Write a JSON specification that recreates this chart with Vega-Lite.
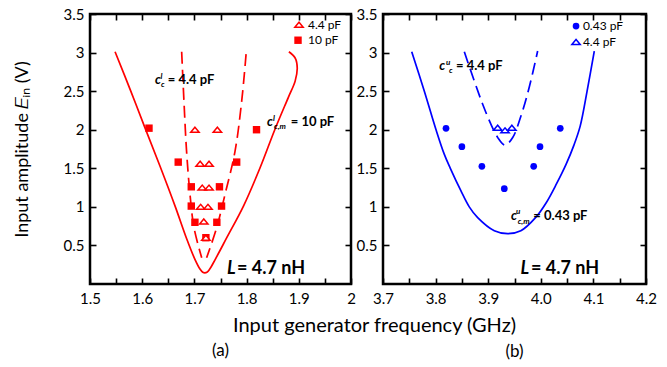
{
  "$schema": "https://vega.github.io/schema/vega-lite/v6.json",
  "padding": {"left": 11, "top": 5, "right": 5, "bottom": 5},
  "background": "white",
  "bounds": "flush",
  "spacing": 32,
  "config": {
    "font": "Lato",
    "view": {"stroke": "black", "strokeWidth": 2.5},
    "axis": {"grid": false, "domain": false, "ticks": true, "tickOpacity": 1, "tickColor": "black", "tickWidth": 1.6, "zindex": 1, "labelFont": "Lato", "labelFontSize": 15, "labelColor": "black", "titleFont": "Lato", "titleFontSize": 18, "titleFontWeight": "normal", "titleColor": "black", "labelFlush": false, "labelOverlap": false}
  },
  "datasets": {
    "curves": [
      {"panel": "a", "curve": "solid", "i": 0, "f": 1.548, "v": 3.01},
      {"panel": "a", "curve": "solid", "i": 1, "f": 1.577, "v": 2.52},
      {"panel": "a", "curve": "solid", "i": 2, "f": 1.605, "v": 2.03},
      {"panel": "a", "curve": "solid", "i": 3, "f": 1.634, "v": 1.53},
      {"panel": "a", "curve": "solid", "i": 4, "f": 1.663, "v": 1.01},
      {"panel": "a", "curve": "solid", "i": 5, "f": 1.685, "v": 0.59},
      {"panel": "a", "curve": "solid", "i": 6, "f": 1.701, "v": 0.32},
      {"panel": "a", "curve": "solid", "i": 7, "f": 1.711, "v": 0.19},
      {"panel": "a", "curve": "solid", "i": 8, "f": 1.716, "v": 0.152},
      {"panel": "a", "curve": "solid", "i": 9, "f": 1.72, "v": 0.145},
      {"panel": "a", "curve": "solid", "i": 10, "f": 1.724, "v": 0.152},
      {"panel": "a", "curve": "solid", "i": 11, "f": 1.729, "v": 0.19},
      {"panel": "a", "curve": "solid", "i": 12, "f": 1.74, "v": 0.32},
      {"panel": "a", "curve": "solid", "i": 13, "f": 1.762, "v": 0.6},
      {"panel": "a", "curve": "solid", "i": 14, "f": 1.794, "v": 1.01},
      {"panel": "a", "curve": "solid", "i": 15, "f": 1.826, "v": 1.51},
      {"panel": "a", "curve": "solid", "i": 16, "f": 1.854, "v": 2.0},
      {"panel": "a", "curve": "solid", "i": 17, "f": 1.88, "v": 2.42},
      {"panel": "a", "curve": "solid", "i": 18, "f": 1.893, "v": 2.63},
      {"panel": "a", "curve": "solid", "i": 19, "f": 1.897, "v": 2.8},
      {"panel": "a", "curve": "solid", "i": 20, "f": 1.893, "v": 2.93},
      {"panel": "a", "curve": "solid", "i": 21, "f": 1.881, "v": 3.01},
      {"panel": "a", "curve": "dashL", "i": 0, "f": 1.6756, "v": 3.01},
      {"panel": "a", "curve": "dashL", "i": 1, "f": 1.68, "v": 2.37},
      {"panel": "a", "curve": "dashL", "i": 2, "f": 1.685, "v": 1.72},
      {"panel": "a", "curve": "dashL", "i": 3, "f": 1.6916, "v": 1.16},
      {"panel": "a", "curve": "dashL", "i": 4, "f": 1.6992, "v": 0.73},
      {"panel": "a", "curve": "dashL", "i": 5, "f": 1.714, "v": 0.34},
      {"panel": "a", "curve": "dashR", "i": 0, "f": 1.799, "v": 2.98},
      {"panel": "a", "curve": "dashR", "i": 1, "f": 1.7906, "v": 2.37},
      {"panel": "a", "curve": "dashR", "i": 2, "f": 1.7778, "v": 1.72},
      {"panel": "a", "curve": "dashR", "i": 3, "f": 1.7586, "v": 1.16},
      {"panel": "a", "curve": "dashR", "i": 4, "f": 1.7427, "v": 0.73},
      {"panel": "a", "curve": "dashR", "i": 5, "f": 1.7234, "v": 0.34},
      {"panel": "b", "curve": "solid", "i": 0, "f": 3.7546, "v": 3.01},
      {"panel": "b", "curve": "solid", "i": 1, "f": 3.7786, "v": 2.5},
      {"panel": "b", "curve": "solid", "i": 2, "f": 3.8008, "v": 2.0},
      {"panel": "b", "curve": "solid", "i": 3, "f": 3.8166, "v": 1.68},
      {"panel": "b", "curve": "solid", "i": 4, "f": 3.828, "v": 1.5},
      {"panel": "b", "curve": "solid", "i": 5, "f": 3.848, "v": 1.21},
      {"panel": "b", "curve": "solid", "i": 6, "f": 3.864, "v": 1.0},
      {"panel": "b", "curve": "solid", "i": 7, "f": 3.88, "v": 0.86},
      {"panel": "b", "curve": "solid", "i": 8, "f": 3.9116, "v": 0.69},
      {"panel": "b", "curve": "solid", "i": 9, "f": 3.937, "v": 0.652},
      {"panel": "b", "curve": "solid", "i": 10, "f": 3.962, "v": 0.69},
      {"panel": "b", "curve": "solid", "i": 11, "f": 3.99, "v": 0.86},
      {"panel": "b", "curve": "solid", "i": 12, "f": 4.01, "v": 1.05},
      {"panel": "b", "curve": "solid", "i": 13, "f": 4.03, "v": 1.3},
      {"panel": "b", "curve": "solid", "i": 14, "f": 4.048, "v": 1.55},
      {"panel": "b", "curve": "solid", "i": 15, "f": 4.063, "v": 1.8},
      {"panel": "b", "curve": "solid", "i": 16, "f": 4.075, "v": 2.05},
      {"panel": "b", "curve": "solid", "i": 17, "f": 4.088, "v": 2.5},
      {"panel": "b", "curve": "solid", "i": 18, "f": 4.1017, "v": 3.02},
      {"panel": "b", "curve": "dash", "i": 0, "f": 3.8546, "v": 3.01},
      {"panel": "b", "curve": "dash", "i": 1, "f": 3.8736, "v": 2.63},
      {"panel": "b", "curve": "dash", "i": 2, "f": 3.8895, "v": 2.33},
      {"panel": "b", "curve": "dash", "i": 3, "f": 3.9053, "v": 2.07},
      {"panel": "b", "curve": "dash", "i": 4, "f": 3.918, "v": 1.9},
      {"panel": "b", "curve": "dash", "i": 5, "f": 3.932, "v": 1.8},
      {"panel": "b", "curve": "dash", "i": 6, "f": 3.9466, "v": 1.9},
      {"panel": "b", "curve": "dash", "i": 7, "f": 3.9624, "v": 2.18},
      {"panel": "b", "curve": "dash", "i": 8, "f": 3.978, "v": 2.55},
      {"panel": "b", "curve": "dash", "i": 9, "f": 3.994, "v": 3.02}
    ],
    "pts": [
      {"panel": "a", "shape": "sq", "f": 1.613, "v": 2.02},
      {"panel": "a", "shape": "sq", "f": 1.819, "v": 2.0},
      {"panel": "a", "shape": "sq", "f": 1.669, "v": 1.58},
      {"panel": "a", "shape": "sq", "f": 1.781, "v": 1.58},
      {"panel": "a", "shape": "sq", "f": 1.694, "v": 1.26},
      {"panel": "a", "shape": "sq", "f": 1.748, "v": 1.26},
      {"panel": "a", "shape": "sq", "f": 1.694, "v": 1.01},
      {"panel": "a", "shape": "sq", "f": 1.752, "v": 1.01},
      {"panel": "a", "shape": "sq", "f": 1.701, "v": 0.8},
      {"panel": "a", "shape": "sq", "f": 1.743, "v": 0.8},
      {"panel": "a", "shape": "sq", "f": 1.722, "v": 0.6},
      {"panel": "a", "shape": "sq", "f": 1.8985, "v": 3.16},
      {"panel": "a", "shape": "tri", "f": 1.701, "v": 2.0},
      {"panel": "a", "shape": "tri", "f": 1.744, "v": 2.0},
      {"panel": "a", "shape": "tri", "f": 1.711, "v": 1.56},
      {"panel": "a", "shape": "tri", "f": 1.728, "v": 1.56},
      {"panel": "a", "shape": "tri", "f": 1.715, "v": 1.25},
      {"panel": "a", "shape": "tri", "f": 1.728, "v": 1.25},
      {"panel": "a", "shape": "tri", "f": 1.712, "v": 1.0},
      {"panel": "a", "shape": "tri", "f": 1.726, "v": 1.0},
      {"panel": "a", "shape": "tri", "f": 1.718, "v": 0.81},
      {"panel": "a", "shape": "tri", "f": 1.722, "v": 0.6},
      {"panel": "a", "shape": "tri", "f": 1.9004, "v": 3.36},
      {"panel": "b", "shape": "circ", "f": 3.8198, "v": 2.018},
      {"panel": "b", "shape": "circ", "f": 4.037, "v": 2.018},
      {"panel": "b", "shape": "circ", "f": 3.85, "v": 1.78},
      {"panel": "b", "shape": "circ", "f": 3.9985, "v": 1.78},
      {"panel": "b", "shape": "circ", "f": 3.888, "v": 1.526},
      {"panel": "b", "shape": "circ", "f": 3.9865, "v": 1.526},
      {"panel": "b", "shape": "circ", "f": 3.9306, "v": 1.235},
      {"panel": "b", "shape": "circ", "f": 4.067, "v": 3.344},
      {"panel": "b", "shape": "tri", "f": 3.918, "v": 2.026},
      {"panel": "b", "shape": "tri", "f": 3.932, "v": 1.992},
      {"panel": "b", "shape": "tri", "f": 3.945, "v": 2.026},
      {"panel": "b", "shape": "tri", "f": 4.067, "v": 3.137}
    ],
    "txt": [
      {"panel": "a", "kind": "sym", "f": 1.6245, "v": 2.593, "t": "c"},
      {"panel": "a", "kind": "sym", "f": 1.839, "v": 2.048, "t": "c"},
      {"panel": "a", "kind": "sup", "f": 1.635, "v": 2.658, "t": "l"},
      {"panel": "a", "kind": "sup", "f": 1.8506, "v": 2.113, "t": "l"},
      {"panel": "a", "kind": "sub", "f": 1.636, "v": 2.554, "t": "c"},
      {"panel": "a", "kind": "sub", "f": 1.8525, "v": 2.009, "t": "c,m"},
      {"panel": "a", "kind": "val", "f": 1.649, "v": 2.593, "t": "= 4.4 pF"},
      {"panel": "a", "kind": "val", "f": 1.8845, "v": 2.048, "t": "= 10 pF"},
      {"panel": "a", "kind": "Lsym", "f": 1.7625, "v": 0.13, "t": "L"},
      {"panel": "a", "kind": "Lval", "f": 1.7816, "v": 0.13, "t": "= 4.7 nH"},
      {"panel": "a", "kind": "leg", "f": 1.9176, "v": 3.36, "t": "4.4 pF"},
      {"panel": "a", "kind": "leg", "f": 1.9176, "v": 3.16, "t": "10 pF"},
      {"panel": "b", "kind": "sym", "f": 3.807, "v": 2.774, "t": "c"},
      {"panel": "b", "kind": "sym", "f": 3.9433, "v": 0.826, "t": "c"},
      {"panel": "b", "kind": "sup", "f": 3.8198, "v": 2.839, "t": "u"},
      {"panel": "b", "kind": "sup", "f": 3.9529, "v": 0.907, "t": "u"},
      {"panel": "b", "kind": "sub", "f": 3.8255, "v": 2.735, "t": "c"},
      {"panel": "b", "kind": "sub", "f": 3.956, "v": 0.78, "t": "c,m"},
      {"panel": "b", "kind": "val", "f": 3.8388, "v": 2.774, "t": "= 4.4 pF"},
      {"panel": "b", "kind": "val", "f": 3.9858, "v": 0.826, "t": "= 0.43 pF"},
      {"panel": "b", "kind": "Lsym", "f": 3.9614, "v": 0.13, "t": "L"},
      {"panel": "b", "kind": "Lval", "f": 3.9814, "v": 0.13, "t": "= 4.7 nH"},
      {"panel": "b", "kind": "leg", "f": 4.08, "v": 3.344, "t": "0.43 pF"},
      {"panel": "b", "kind": "leg", "f": 4.08, "v": 3.137, "t": "4.4 pF"}
    ]
  },
  "hconcat": [
    {
      "width": 261,
      "height": 270,
      "title": {"text": "(a)", "orient": "bottom", "anchor": "middle", "font": "Lato", "fontSize": 17, "fontWeight": "normal", "color": "black", "offset": 8},
      "resolve": {"axis": {"x": "independent", "y": "independent"}},
      "encoding": {
        "x": {"field": "f", "type": "quantitative", "scale": {"domain": [1.5, 2], "nice": false, "zero": false}, "axis": null},
        "y": {"field": "v", "type": "quantitative", "scale": {"domain": [0, 3.5], "nice": false, "zero": false}, "axis": null}
      },
      "layer": [
        {
          "data": {"name": "curves"},
          "transform": [{"filter": "datum.panel == 'a' && datum.curve == 'solid'"}],
          "mark": {"type": "line", "color": "#ff0000", "strokeWidth": 1.7, "interpolate": "catmull-rom"},
          "encoding": {
            "x": {"field": "f", "type": "quantitative", "scale": {"domain": [1.5, 2], "nice": false, "zero": false},
              "axis": {"orient": "bottom", "offset": -6, "ticks": true, "values": [1.5, 1.55, 1.6, 1.65, 1.7, 1.75, 1.8, 1.85, 1.9, 1.95, 2], "labelExpr": "abs(datum.value*10 - round(datum.value*10)) < 0.01 ? (datum.value == 2 ? '2' : format(datum.value, '.1f')) : ''", "tickSize": 6, "labelPadding": 7, "title": "Input generator frequency (GHz)", "titleFontSize": 20, "titlePadding": 9, "titleX": 284}},
            "y": {"field": "v", "type": "quantitative", "scale": {"domain": [0, 3.5], "nice": false, "zero": false},
              "axis": {"orient": "left", "offset": -6, "ticks": true, "values": [0.5, 1, 1.5, 2, 2.5, 3, 3.5], "labelExpr": "toString(datum.value)", "tickSize": 6, "labelPadding": 6, "title": "Input amplitude 𝐸ᵢₙ (V)", "titlePadding": 32}},
            "order": {"field": "i", "type": "quantitative"}
          }
        },
        {
          "data": {"name": "curves"},
          "transform": [{"filter": "datum.panel == 'a' && datum.curve != 'solid'"}],
          "mark": {"type": "line", "color": "#ff0000", "strokeWidth": 1.7, "strokeDash": [12, 6], "interpolate": "catmull-rom"},
          "encoding": {
            "x": {"field": "f", "type": "quantitative", "scale": {"domain": [1.5, 2], "nice": false, "zero": false},
              "axis": {"orient": "top", "offset": -6, "ticks": true, "values": [1.5, 1.55, 1.6, 1.65, 1.7, 1.75, 1.8, 1.85, 1.9, 1.95, 2], "labels": false, "tickSize": 6, "title": null}},
            "y": {"field": "v", "type": "quantitative", "scale": {"domain": [0, 3.5], "nice": false, "zero": false},
              "axis": {"orient": "right", "offset": -6, "ticks": true, "values": [0.5, 1, 1.5, 2, 2.5, 3, 3.5], "labels": false, "tickSize": 6, "title": null}},
            "detail": {"field": "curve", "type": "nominal"},
            "order": {"field": "i", "type": "quantitative"}
          }
        },
        {
          "data": {"name": "pts"},
          "transform": [{"filter": "datum.panel == 'a' && datum.shape == 'sq'"}],
          "mark": {"type": "point", "shape": "square", "filled": true, "color": "#ff0000", "size": 55, "opacity": 1}
        },
        {
          "data": {"name": "pts"},
          "transform": [{"filter": "datum.panel == 'a' && datum.shape == 'tri'"}],
          "mark": {"type": "point", "shape": "M-1,0.6L1,0.6L0,-0.6Z", "filled": true, "fill": "white", "stroke": "#ff0000", "strokeWidth": 1.5, "size": 70, "opacity": 1}
        },
        {
          "data": {"name": "txt"},
          "transform": [{"filter": "datum.panel == 'a' && datum.kind == 'sym'"}],
          "mark": {"type": "text", "align": "left", "baseline": "alphabetic", "font": "Lato", "fontSize": 13, "fontWeight": "bold", "fontStyle": "italic", "color": "black"},
          "encoding": {"text": {"field": "t"}}
        },
        {
          "data": {"name": "txt"},
          "transform": [{"filter": "datum.panel == 'a' && (datum.kind == 'sup' || datum.kind == 'sub')"}],
          "mark": {"type": "text", "align": "left", "baseline": "alphabetic", "font": "Lato", "fontSize": 8, "fontWeight": "bold", "fontStyle": "italic", "color": "black"},
          "encoding": {"text": {"field": "t"}}
        },
        {
          "data": {"name": "txt"},
          "transform": [{"filter": "datum.panel == 'a' && datum.kind == 'val'"}],
          "mark": {"type": "text", "align": "left", "baseline": "alphabetic", "font": "Lato", "fontSize": 13, "fontWeight": "bold", "color": "black"},
          "encoding": {"text": {"field": "t"}}
        },
        {
          "data": {"name": "txt"},
          "transform": [{"filter": "datum.panel == 'a' && datum.kind == 'Lsym'"}],
          "mark": {"type": "text", "align": "left", "baseline": "alphabetic", "font": "Lato", "fontSize": 18, "fontWeight": "bold", "fontStyle": "italic", "color": "black"},
          "encoding": {"text": {"field": "t"}}
        },
        {
          "data": {"name": "txt"},
          "transform": [{"filter": "datum.panel == 'a' && datum.kind == 'Lval'"}],
          "mark": {"type": "text", "align": "left", "baseline": "alphabetic", "font": "Lato", "fontSize": 18, "fontWeight": "bold", "color": "black"},
          "encoding": {"text": {"field": "t"}}
        },
        {
          "data": {"name": "txt"},
          "transform": [{"filter": "datum.panel == 'a' && datum.kind == 'leg'"}],
          "mark": {"type": "text", "align": "left", "baseline": "middle", "font": "Lato", "fontSize": 12, "color": "black"},
          "encoding": {"text": {"field": "t"}}
        }
      ]
    },
    {
      "width": 263,
      "height": 270,
      "title": {"text": "(b)", "orient": "bottom", "anchor": "middle", "font": "Lato", "fontSize": 17, "fontWeight": "normal", "color": "black", "offset": 38},
      "resolve": {"axis": {"x": "independent", "y": "independent"}},
      "encoding": {
        "x": {"field": "f", "type": "quantitative", "scale": {"domain": [3.7, 4.2], "nice": false, "zero": false}, "axis": null},
        "y": {"field": "v", "type": "quantitative", "scale": {"domain": [0, 3.5], "nice": false, "zero": false}, "axis": null}
      },
      "layer": [
        {
          "data": {"name": "curves"},
          "transform": [{"filter": "datum.panel == 'b' && datum.curve == 'solid'"}],
          "mark": {"type": "line", "color": "#0000ff", "strokeWidth": 1.7, "interpolate": "catmull-rom"},
          "encoding": {
            "x": {"field": "f", "type": "quantitative", "scale": {"domain": [3.7, 4.2], "nice": false, "zero": false},
              "axis": {"orient": "bottom", "offset": -6, "ticks": true, "values": [3.7, 3.75, 3.8, 3.85, 3.9, 3.95, 4.0, 4.05, 4.1, 4.15, 4.2], "labelExpr": "abs(datum.value*10 - round(datum.value*10)) < 0.01 ? format(datum.value, '.1f') : ''", "tickSize": 6, "labelPadding": 7, "title": null}},
            "y": {"field": "v", "type": "quantitative", "scale": {"domain": [0, 3.5], "nice": false, "zero": false},
              "axis": {"orient": "left", "offset": -6, "ticks": true, "values": [0.5, 1, 1.5, 2, 2.5, 3, 3.5], "labelExpr": "toString(datum.value)", "tickSize": 6, "labelPadding": 6, "title": null}},
            "order": {"field": "i", "type": "quantitative"}
          }
        },
        {
          "data": {"name": "curves"},
          "transform": [{"filter": "datum.panel == 'b' && datum.curve != 'solid'"}],
          "mark": {"type": "line", "color": "#0000ff", "strokeWidth": 1.7, "strokeDash": [12, 6], "interpolate": "catmull-rom"},
          "encoding": {
            "x": {"field": "f", "type": "quantitative", "scale": {"domain": [3.7, 4.2], "nice": false, "zero": false},
              "axis": {"orient": "top", "offset": -6, "ticks": true, "values": [3.7, 3.75, 3.8, 3.85, 3.9, 3.95, 4.0, 4.05, 4.1, 4.15, 4.2], "labels": false, "tickSize": 6, "title": null}},
            "y": {"field": "v", "type": "quantitative", "scale": {"domain": [0, 3.5], "nice": false, "zero": false},
              "axis": {"orient": "right", "offset": -6, "ticks": true, "values": [0.5, 1, 1.5, 2, 2.5, 3, 3.5], "labels": false, "tickSize": 6, "title": null}},
            "detail": {"field": "curve", "type": "nominal"},
            "order": {"field": "i", "type": "quantitative"}
          }
        },
        {
          "data": {"name": "pts"},
          "transform": [{"filter": "datum.panel == 'b' && datum.shape == 'circ'"}],
          "mark": {"type": "point", "shape": "circle", "filled": true, "color": "#0000ff", "size": 45, "opacity": 1}
        },
        {
          "data": {"name": "pts"},
          "transform": [{"filter": "datum.panel == 'b' && datum.shape == 'tri'"}],
          "mark": {"type": "point", "shape": "M-1,0.6L1,0.6L0,-0.6Z", "filled": true, "fill": "white", "stroke": "#0000ff", "strokeWidth": 1.5, "size": 70, "opacity": 1}
        },
        {
          "data": {"name": "txt"},
          "transform": [{"filter": "datum.panel == 'b' && datum.kind == 'sym'"}],
          "mark": {"type": "text", "align": "left", "baseline": "alphabetic", "font": "Lato", "fontSize": 13, "fontWeight": "bold", "fontStyle": "italic", "color": "black"},
          "encoding": {"text": {"field": "t"}}
        },
        {
          "data": {"name": "txt"},
          "transform": [{"filter": "datum.panel == 'b' && (datum.kind == 'sup' || datum.kind == 'sub')"}],
          "mark": {"type": "text", "align": "left", "baseline": "alphabetic", "font": "Lato", "fontSize": 8, "fontWeight": "bold", "fontStyle": "italic", "color": "black"},
          "encoding": {"text": {"field": "t"}}
        },
        {
          "data": {"name": "txt"},
          "transform": [{"filter": "datum.panel == 'b' && datum.kind == 'val'"}],
          "mark": {"type": "text", "align": "left", "baseline": "alphabetic", "font": "Lato", "fontSize": 13, "fontWeight": "bold", "color": "black"},
          "encoding": {"text": {"field": "t"}}
        },
        {
          "data": {"name": "txt"},
          "transform": [{"filter": "datum.panel == 'b' && datum.kind == 'Lsym'"}],
          "mark": {"type": "text", "align": "left", "baseline": "alphabetic", "font": "Lato", "fontSize": 18, "fontWeight": "bold", "fontStyle": "italic", "color": "black"},
          "encoding": {"text": {"field": "t"}}
        },
        {
          "data": {"name": "txt"},
          "transform": [{"filter": "datum.panel == 'b' && datum.kind == 'Lval'"}],
          "mark": {"type": "text", "align": "left", "baseline": "alphabetic", "font": "Lato", "fontSize": 18, "fontWeight": "bold", "color": "black"},
          "encoding": {"text": {"field": "t"}}
        },
        {
          "data": {"name": "txt"},
          "transform": [{"filter": "datum.panel == 'b' && datum.kind == 'leg'"}],
          "mark": {"type": "text", "align": "left", "baseline": "middle", "font": "Lato", "fontSize": 12, "color": "black"},
          "encoding": {"text": {"field": "t"}}
        }
      ]
    }
  ]
}
